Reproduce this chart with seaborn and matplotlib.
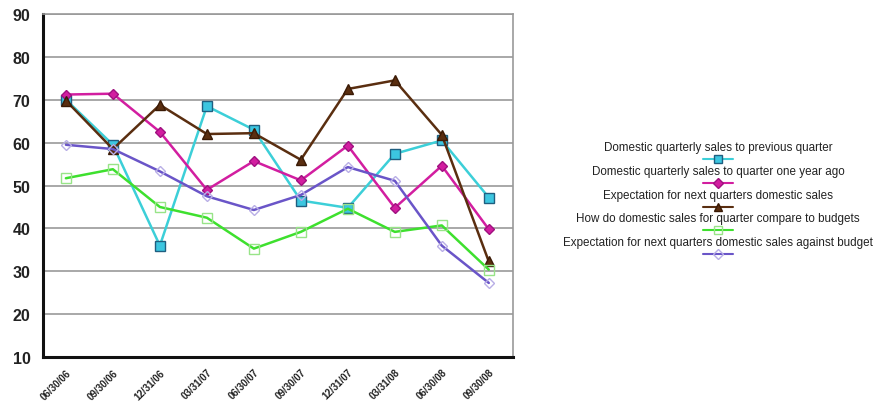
import matplotlib
matplotlib.use("Agg")
import matplotlib.pyplot as plt
from matplotlib.lines import Line2D
import seaborn as sns
import pandas as pd

dates = ["06/30/06", "09/30/06", "12/31/06", "03/31/07", "06/30/07",
         "09/30/07", "12/31/07", "03/31/08", "06/30/08", "09/30/08"]

prev_quarter = [70.0, 59.5, 36.0, 68.5, 63.0, 46.5, 44.8, 57.4, 60.5, 47.2]
year_ago = [71.2, 71.4, 62.5, 49.0, 55.7, 51.2, 59.3, 44.8, 54.6, 39.8]
expect_sales = [69.8, 58.5, 68.8, 62.0, 62.2, 56.0, 72.5, 74.5, 61.8, 32.3]
vs_budget = [51.7, 53.8, 45.0, 42.5, 35.3, 39.2, 44.6, 39.2, 40.7, 30.4]
expect_budget = [59.5, 58.5, 53.3, 47.5, 44.3, 47.8, 54.3, 51.1, 36.0, 27.3]

labels = ["Domestic quarterly sales to previous quarter",
          "Domestic quarterly sales to quarter one year ago",
          "Expectation for next quarters domestic sales",
          "How do domestic sales for quarter compare to budgets",
          "Expectation for next quarters domestic sales against budget"]
series = [prev_quarter, year_ago, expect_sales, vs_budget, expect_budget]

# style per series: line colour, marker, face, edge, size
styles = [
    ("#3ccfd8", "s", "#3cc6e0", "#1f5f80", 7),
    ("#d21ea0", "D", "#d21ea0", "#a01080", 5.5),
    ("#5a2e10", "^", "#5a2e10", "#3a1a05", 7),
    ("#3ee02e", "s", "none", "#98e488", 7),
    ("#6a55c8", "D", "none", "#b8aee6", 5.5),
]

sns.set_style("white")
plt.rcParams["font.family"] = ["Liberation Sans", "DejaVu Sans"]

fig = plt.figure(figsize=(8.75, 4.02), dpi=100)
ax = fig.add_axes([0.049, 0.109, 0.537, 0.854])

idx = list(range(len(dates)))
for lab, vals, (lc, mk, fc, ec, ms) in zip(labels, series, styles):
    df = pd.DataFrame({"x": idx, "y": vals})
    sns.lineplot(data=df, x="x", y="y", ax=ax, color=lc, linewidth=1.8,
                 marker=mk, markersize=ms, markerfacecolor=fc,
                 markeredgecolor=ec, markeredgewidth=1.0)

ax.set_ylim(10, 90)
ax.set_yticks(range(10, 91, 10))
ax.set_xlim(-0.49, 9.51)
ax.set_xticks(idx)
ax.set_xticklabels(dates, rotation=45, ha="right", rotation_mode="anchor",
                   fontsize=7, fontweight="bold", color="#222222")
ax.set_yticklabels([str(v) for v in range(10, 91, 10)], fontsize=11.5,
                   fontweight="bold", color="#222222")
ax.set_xlabel("")
ax.set_ylabel("")
ax.grid(axis="y", color="#999999", linewidth=1.2)
ax.set_axisbelow(True)
ax.tick_params(axis="x", length=5, width=1, color="#888888", direction="out", pad=2)
ax.tick_params(axis="y", length=0, pad=9)
for s in ["top", "right"]:
    ax.spines[s].set_color("#999999")
    ax.spines[s].set_linewidth(1.2)
for s in ["left", "bottom"]:
    ax.spines[s].set_color("#111111")
    ax.spines[s].set_linewidth(2.2)

# legend: label above its line sample
cx = 718 / 875
for i, (lab, (lc, mk, fc, ec, ms)) in enumerate(zip(labels, styles)):
    ty = 1 - (148 + i * 23.8) / 402
    ly = 1 - (160 + i * 23.8) / 402
    fig.text(cx, ty, lab, ha="center", va="center", fontsize=8.4, color="#222222")
    fig.add_artist(Line2D([cx - 15 / 875, cx + 15 / 875], [ly, ly],
                          transform=fig.transFigure, color=lc, linewidth=1.5))
    fig.add_artist(Line2D([cx], [ly], transform=fig.transFigure, marker=mk,
                          markersize=ms * 0.85, markerfacecolor=fc, markeredgecolor=ec,
                          linestyle="none"))

fig.savefig("out.png", dpi=100)
